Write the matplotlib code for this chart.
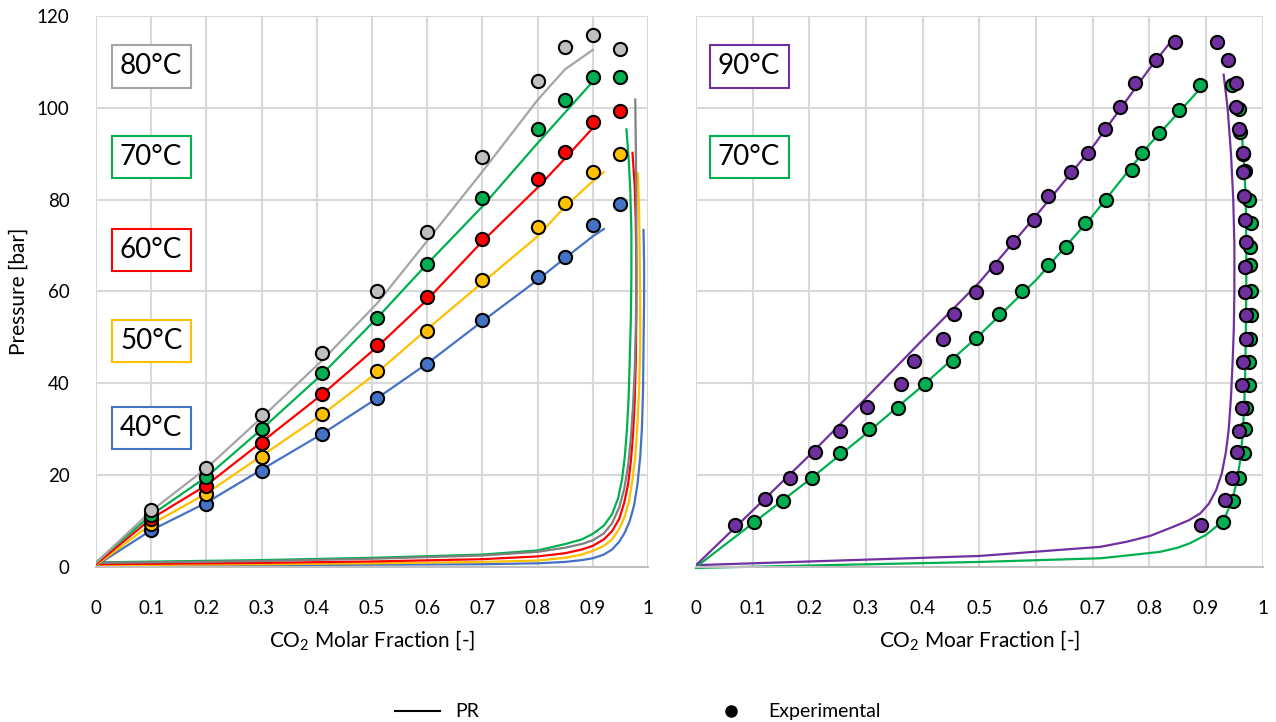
import numpy as np
import matplotlib
matplotlib.use("Agg")
from matplotlib import pyplot as plt
from matplotlib.lines import Line2D

plt.rcParams['font.family'] = ['Lato', 'DejaVu Sans']
plt.rcParams['mathtext.default'] = 'regular'

# experimental points, left panel
x_exp = [0.1, 0.2, 0.3, 0.41, 0.51, 0.6, 0.7, 0.8, 0.85, 0.9, 0.95]
p40_exp = [8.1, 13.8, 21.0, 29.0, 36.8, 44.3, 53.7, 63.2, 67.6, 74.4, 79.0]
p50_exp = [9.3, 15.8, 24.0, 33.3, 42.6, 51.5, 62.6, 74.0, 79.2, 86.0, 90.0]
p60_exp = [10.5, 17.7, 27.0, 37.7, 48.4, 58.7, 71.5, 84.6, 90.4, 96.8, 99.2]
p70_exp = [11.3, 19.6, 30.1, 42.2, 54.2, 65.9, 80.4, 95.3, 101.8, 106.7, 106.8]
p80_exp = [12.5, 21.6, 33.1, 46.6, 60.0, 73.0, 89.3, 105.9, 113.2, 115.8, 112.9]

# PR bubble curves, left panel
xb_a = [0, 0.1, 0.2, 0.3, 0.41, 0.51, 0.6, 0.7, 0.8, 0.85, 0.9, 0.92]
xb_b = [0, 0.1, 0.2, 0.3, 0.41, 0.51, 0.6, 0.7, 0.8, 0.85, 0.9]
p40_bub = [0.3, 8.0, 14.0, 21.2, 29.0, 36.8, 44.3, 53.5, 62.5, 67.3, 72.0, 73.6]
p50_bub = [0.4, 9.3, 16.0, 24.2, 33.2, 42.4, 51.8, 61.9, 72.0, 78.5, 84.0, 86.0]
p60_bub = [0.6, 10.5, 17.8, 27.2, 37.6, 48.0, 58.2, 70.9, 82.6, 89.0, 95.6]
p70_bub = [1.0, 11.3, 19.6, 30.0, 42.0, 54.3, 66.0, 78.5, 92.3, 99.0, 105.7]
p80_bub = [0.9, 12.2, 21.5, 32.5, 45.0, 57.5, 71.0, 86.1, 101.7, 108.4, 112.6]

# PR dew curves, left panel
x40_dew = [0, 0.3, 0.5, 0.7, 0.8, 0.85, 0.88, 0.9, 0.92, 0.935, 0.948, 0.958, 0.967, 0.975,
           0.981, 0.986, 0.989, 0.991, 0.992, 0.993, 0.993, 0.992]
p40_dew = [0.3, 0.4, 0.5, 0.6, 0.8, 1.1, 1.5, 1.9, 2.7, 3.8, 5.5, 7.5, 10, 13.5,
           18, 24, 30, 38, 48, 58, 66, 73.4]
x50_dew = [0, 0.3, 0.5, 0.7, 0.8, 0.85, 0.88, 0.9, 0.92, 0.935, 0.948, 0.958, 0.966, 0.972,
           0.977, 0.981, 0.984, 0.986, 0.986, 0.985, 0.984, 0.982]
p50_dew = [0.4, 0.6, 0.8, 1.1, 1.4, 2.0, 2.7, 3.5, 4.6, 6.0, 8.3, 11, 14.5, 19,
           24, 31, 39, 48, 58, 68, 77, 85.7]
x60_dew = [0, 0.3, 0.5, 0.7, 0.8, 0.85, 0.88, 0.9, 0.92, 0.935, 0.948, 0.957, 0.964, 0.969,
           0.973, 0.976, 0.978, 0.979, 0.979, 0.978, 0.976, 0.972]
p60_dew = [0.6, 0.9, 1.2, 1.7, 2.3, 3.0, 3.8, 4.6, 6.0, 7.8, 10.5, 14, 18, 23,
           29, 36, 45, 55, 65, 75, 83, 90.2]
x70_dew = [0, 0.3, 0.5, 0.7, 0.8, 0.85, 0.88, 0.9, 0.92, 0.935, 0.946, 0.953, 0.958, 0.962,
           0.965, 0.967, 0.969, 0.970, 0.970, 0.968, 0.965, 0.961]
p70_dew = [1.0, 1.5, 2.0, 2.7, 3.6, 5.0, 6.0, 7.2, 9.0, 11.5, 15, 19, 24, 30,
           37, 45, 54, 63, 73, 82, 89, 95.3]
x80_dew = [0, 0.3, 0.5, 0.7, 0.8, 0.85, 0.88, 0.9, 0.92, 0.935, 0.948, 0.957, 0.964, 0.969,
           0.973, 0.976, 0.978, 0.979, 0.979, 0.979, 0.978, 0.977]
p80_dew = [0.9, 1.3, 1.8, 2.5, 3.3, 4.2, 5.0, 5.8, 7.3, 9.5, 13, 17, 22, 28,
           35, 43, 52, 62, 72, 82, 92, 101.8]

# right panel, experimental (bubble + dew side)
x90_exp = [0.069, 0.122, 0.165, 0.21, 0.254, 0.302, 0.361, 0.385, 0.435, 0.455, 0.494,
           0.529, 0.56, 0.597, 0.621, 0.662, 0.692, 0.722, 0.748, 0.775, 0.812, 0.845,
           0.920, 0.938, 0.952, 0.953, 0.959, 0.966, 0.966, 0.967, 0.968, 0.970, 0.969,
           0.969, 0.970, 0.971, 0.966, 0.964, 0.963, 0.959, 0.954, 0.945, 0.933, 0.891]
p90_exp = [9.2, 14.8, 19.4, 25.0, 29.6, 34.8, 39.8, 44.8, 49.7, 55.0, 59.8,
           65.4, 70.7, 75.6, 80.8, 86.1, 90.2, 95.4, 100.2, 105.3, 110.4, 114.3,
           114.3, 110.4, 105.4, 100.2, 95.4, 90.2, 86.1, 80.8, 75.6, 70.7, 65.4,
           59.8, 54.9, 49.7, 44.7, 39.7, 34.7, 29.6, 25.0, 19.3, 14.6, 9.2]
x70r_exp = [0.102, 0.153, 0.205, 0.254, 0.306, 0.357, 0.404, 0.454, 0.494, 0.535, 0.575,
            0.621, 0.653, 0.687, 0.723, 0.769, 0.787, 0.817, 0.853, 0.889,
            0.945, 0.959, 0.960, 0.966, 0.968, 0.976, 0.979, 0.978, 0.978, 0.979,
            0.979, 0.978, 0.976, 0.975, 0.970, 0.969, 0.967, 0.959, 0.948, 0.930]
p70r_exp = [9.7, 14.4, 19.4, 24.8, 30.1, 34.6, 39.8, 44.8, 49.8, 55.0, 60.0,
            65.8, 69.7, 74.9, 80.0, 86.4, 90.1, 94.6, 99.6, 104.9,
            104.9, 99.7, 94.8, 90.0, 86.3, 80.0, 75.0, 69.7, 65.8, 60.0,
            54.9, 49.7, 44.7, 39.7, 34.7, 30.0, 24.8, 19.3, 14.4, 9.7]

# right panel, PR curves
x90_bub = [0, 0.1, 0.2, 0.3, 0.4, 0.5, 0.6, 0.7, 0.8, 0.8365]
p90_bub = [0.4, 12.3, 24.3, 36.8, 49.5, 62.0, 76.5, 91.5, 108.5, 114.2]
x70r_bub = [0, 0.1, 0.2, 0.3, 0.4, 0.5, 0.6, 0.7, 0.8, 0.901]
p70r_bub = [0.0, 9.5, 19.0, 29.0, 39.5, 50.5, 62.5, 76.5, 92.0, 105.7]
x90_dew = [0, 0.5, 0.714, 0.76, 0.802, 0.843, 0.87, 0.89, 0.905, 0.918, 0.928, 0.935,
           0.940, 0.944, 0.947, 0.949, 0.950, 0.950, 0.948, 0.944, 0.938, 0.931]
p90_dew = [0.4, 2.4, 4.4, 5.5, 6.8, 8.8, 10.2, 11.7, 13.8, 16.8, 20.5, 25,
           30, 37, 45, 52, 60, 70, 80, 90, 100, 107.2]
x70r_dew = [0, 0.5, 0.714, 0.76, 0.819, 0.85, 0.872, 0.9, 0.92, 0.935, 0.946, 0.954,
            0.960, 0.964, 0.967, 0.969, 0.970, 0.971, 0.971, 0.970, 0.967, 0.963]
p70r_dew = [-0.2, 1.1, 1.9, 2.5, 3.3, 4.2, 5.2, 7.0, 9.0, 11.3, 14.5, 18.5,
            23, 28, 34, 41, 50, 60, 70, 80, 88, 94.5]

xticks = [0, 0.1, 0.2, 0.3, 0.4, 0.5, 0.6, 0.7, 0.8, 0.9, 1]
xticklabels = ['0', '0.1', '0.2', '0.3', '0.4', '0.5', '0.6', '0.7', '0.8', '0.9', '1']
yticks = [0, 20, 40, 60, 80, 100, 120]

blue = '#4472C4'
yellow = '#FFC000'
red = '#FF0000'
green = '#00B050'
grey_line = '#A5A5A5'
grey_dew = '#808080'
grey_pt = '#BFBFBF'
purple = '#7030A0'

fig = plt.figure(figsize=(12.76, 7.22), dpi=100)
ax1 = fig.add_axes([0.0752, 0.2147, 0.4326, 0.7632])
ax2 = fig.add_axes([0.5455, 0.2147, 0.4441, 0.7632])

def style_axis(ax, xlabel):
    ax.set_xlim(0, 1)
    ax.set_ylim(0, 120)
    ax.set_xticks(xticks)
    ax.set_xticklabels(xticklabels)
    ax.set_yticks(yticks)
    ax.grid(True, color='#D9D9D9', linewidth=1.5)
    ax.set_axisbelow(True)
    for s in ['top', 'right', 'left']:
        ax.spines[s].set_visible(False)
    ax.spines['bottom'].set_color('#BFBFBF')
    ax.spines['bottom'].set_linewidth(1.5)
    ax.tick_params(length=0, labelsize=13.5, labelcolor='black')
    ax.tick_params(axis='x', pad=24)
    ax.tick_params(axis='y', pad=19)
    ax.set_xlabel(xlabel, fontsize=15, labelpad=8)

def temp_box(ax, x, y, txt, col):
    ax.text(x, y, txt, fontsize=20, ha='center', va='center',
            bbox=dict(boxstyle='square,pad=0.3', fc='white', ec=col, lw=1.5))

lw = 1.6
ms = 9.5

# left panel - lines
ax1.plot(x40_dew, p40_dew, color=blue, lw=lw, zorder=2)
ax1.plot(x50_dew, p50_dew, color=yellow, lw=lw, zorder=2)
ax1.plot(x60_dew, p60_dew, color=red, lw=lw, zorder=2)
ax1.plot(x70_dew, p70_dew, color=green, lw=lw, zorder=2)
ax1.plot(x80_dew, p80_dew, color=grey_dew, lw=lw, zorder=2)
ax1.plot(xb_a, p40_bub, color=blue, lw=lw, zorder=2)
ax1.plot(xb_a, p50_bub, color=yellow, lw=lw, zorder=2)
ax1.plot(xb_b, p60_bub, color=red, lw=lw, zorder=2)
ax1.plot(xb_b, p70_bub, color=green, lw=lw, zorder=2)
ax1.plot(xb_b, p80_bub, color=grey_line, lw=lw, zorder=2)

# left panel - points
for p, c in [(p40_exp, blue), (p50_exp, yellow), (p60_exp, red), (p70_exp, green), (p80_exp, grey_pt)]:
    ax1.plot(x_exp, p, 'o', ms=ms, mfc=c, mec='black', mew=1.5, ls='none', zorder=3, clip_on=False)

style_axis(ax1, 'CO$_2$ Molar Fraction [-]')
ax1.set_ylabel('Pressure [bar]', fontsize=15, labelpad=6)

temp_box(ax1, 0.1, 109, '80°C', grey_line)
temp_box(ax1, 0.1, 89.3, '70°C', green)
temp_box(ax1, 0.1, 69, '60°C', red)
temp_box(ax1, 0.1, 49.2, '50°C', yellow)
temp_box(ax1, 0.1, 30.3, '40°C', blue)

# right panel
ax2.plot(x70r_dew, p70r_dew, color=green, lw=lw, zorder=2, clip_on=False)
ax2.plot(x90_dew, p90_dew, color=purple, lw=lw, zorder=2)
ax2.plot(x70r_bub, p70r_bub, color=green, lw=lw, zorder=2)
ax2.plot(x90_bub, p90_bub, color=purple, lw=lw, zorder=2)
ax2.plot(x70r_exp, p70r_exp, 'o', ms=ms, mfc=green, mec='black', mew=1.5, ls='none', zorder=3)
ax2.plot(x90_exp, p90_exp, 'o', ms=ms, mfc=purple, mec='black', mew=1.5, ls='none', zorder=3)

style_axis(ax2, 'CO$_2$ Moar Fraction [-]')
ax2.set_yticklabels([])

temp_box(ax2, 0.0935, 109, '90°C', purple)
temp_box(ax2, 0.0935, 89.3, '70°C', green)

# legend at bottom
handles = [Line2D([0], [0], color='black', lw=1.5),
           Line2D([0], [0], marker='o', color='black', ls='none', ms=8)]
fig.legend(handles, ['PR', 'Experimental'], loc='lower center', bbox_to_anchor=(0.5, -0.022),
           ncol=2, frameon=False, fontsize=14, columnspacing=11.8, handlelength=2.3,
           handletextpad=0.8)

plt.savefig('out.png', dpi=100)
